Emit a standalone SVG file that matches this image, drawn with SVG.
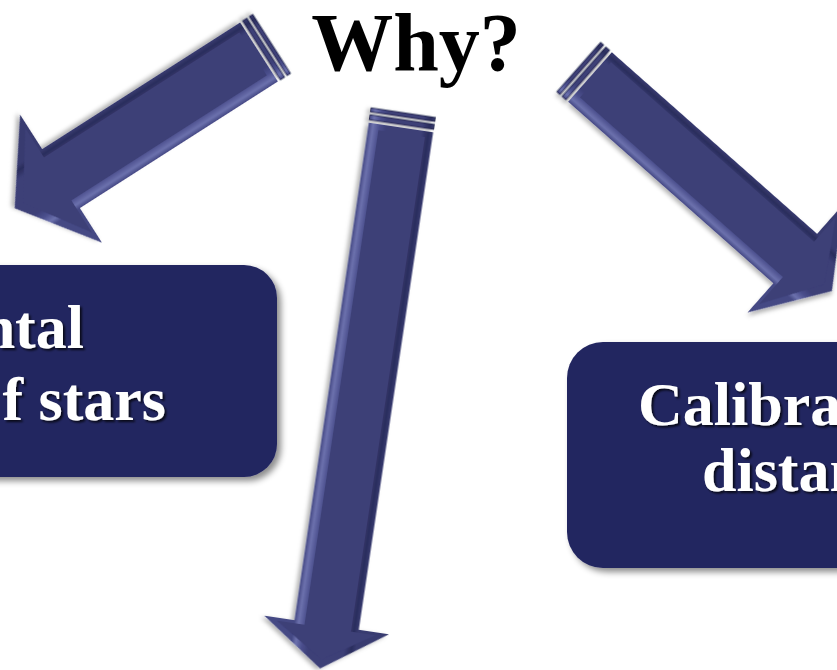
<svg xmlns="http://www.w3.org/2000/svg" width="837" height="670" viewBox="0 0 837 670">
<style>
.box{fill:#222560;filter:url(#boxShadow)}
.lbl{font-family:"Liberation Serif","Times New Roman",serif;font-weight:bold;font-size:62px;fill:#ffffff;filter:url(#txtShadow)}
.why{font-family:"Liberation Serif","Times New Roman",serif;font-weight:bold;font-size:82px;fill:#000000}
.inner{fill:#3c3f77}
.stripe{stroke:#1e2048;stroke-width:0.8}
</style>
<defs>
<filter id="boxShadow" x="-20%" y="-20%" width="140%" height="140%">
<feDropShadow dx="4" dy="4" stdDeviation="3" flood-color="#000" flood-opacity="0.45"/>
</filter>
<filter id="txtShadow" x="-10%" y="-20%" width="120%" height="140%">
<feDropShadow dx="2" dy="2" stdDeviation="1.2" flood-color="#000" flood-opacity="0.75"/>
</filter>
<filter id="arrShadow" x="-20%" y="-20%" width="140%" height="140%">
<feDropShadow dx="2" dy="3" stdDeviation="2" flood-color="#000" flood-opacity="0.3"/>
</filter>
<linearGradient id="gLeft" gradientUnits="userSpaceOnUse" x1="0" y1="-35" x2="0" y2="35">
<stop offset="0" stop-color="#444884"/>
<stop offset="0.07" stop-color="#6c71ad"/>
<stop offset="0.17" stop-color="#4a4e8c"/>
<stop offset="0.28" stop-color="#3c3f77"/>
<stop offset="0.82" stop-color="#3c3f77"/>
<stop offset="0.93" stop-color="#2a2d5c"/>
<stop offset="1" stop-color="#383b70"/>
</linearGradient>
<linearGradient id="gRight" gradientUnits="userSpaceOnUse" x1="0" y1="-33" x2="0" y2="33">
<stop offset="0" stop-color="#383b70"/>
<stop offset="0.07" stop-color="#2a2d5c"/>
<stop offset="0.18" stop-color="#3c3f77"/>
<stop offset="0.72" stop-color="#3c3f77"/>
<stop offset="0.83" stop-color="#4a4e8c"/>
<stop offset="0.93" stop-color="#6c71ad"/>
<stop offset="1" stop-color="#444884"/>
</linearGradient>
<linearGradient id="gMid" gradientUnits="userSpaceOnUse" x1="0" y1="-32.5" x2="0" y2="32.5">
<stop offset="0" stop-color="#383b70"/>
<stop offset="0.07" stop-color="#2a2d5c"/>
<stop offset="0.18" stop-color="#3c3f77"/>
<stop offset="0.72" stop-color="#3c3f77"/>
<stop offset="0.83" stop-color="#4a4e8c"/>
<stop offset="0.93" stop-color="#6c71ad"/>
<stop offset="1" stop-color="#444884"/>
</linearGradient>
</defs>
<rect width="837" height="670" fill="#ffffff"/>

<g id="connectors">
<g id="arrow-left" transform="translate(259,52) rotate(147.4)" filter="url(#arrShadow)">
<rect class="stripe" x="-8" y="-35" width="5" height="70" fill="url(#gLeft)"/>
<rect class="stripe" x="-15" y="-35" width="4" height="70" fill="url(#gLeft)"/>
<polygon points="0,-35 235,-35 235,-76 290,0 235,76 235,35 0,35" fill="url(#gLeft)"/>
<polygon class="inner" points="6,-24 238,-24 238,-62 280,0 238,62 238,27 6,27"/>
</g>
<g id="arrow-right" transform="translate(590,77) rotate(41.5)" filter="url(#arrShadow)">
<rect class="stripe" x="-8" y="-33" width="5" height="66" fill="url(#gRight)"/>
<rect class="stripe" x="-15" y="-33" width="4" height="66" fill="url(#gRight)"/>
<polygon points="0,-33 274,-33 274,-72 323,0 274,72 274,33 0,33" fill="url(#gRight)"/>
<polygon class="inner" points="6,-25 277,-25 277,-58 313,0 277,58 277,22 6,22"/>
</g>
<g id="arrow-mid" transform="translate(401,127.5) rotate(98.5)" filter="url(#arrShadow)">
<rect class="stripe" x="-8" y="-32.5" width="5" height="65" fill="url(#gMid)"/>
<rect class="stripe" x="-15" y="-32.5" width="4" height="65" fill="url(#gMid)"/>
<polygon points="0,-32.5 503,-32.5 503,-63 547,0 503,63 503,32.5 0,32.5" fill="url(#gMid)"/>
<polygon class="inner" points="6,-25 506,-25 506,-50 538,0 506,50 506,22 6,22"/>
</g>
</g>

<g id="node-why">
<text class="why" x="416" y="70" text-anchor="middle">Why?</text>
</g>

<g id="node-left">
<rect class="box" x="-60" y="265" width="337" height="212" rx="33" ry="33"/>
<text class="lbl" x="84" y="348" text-anchor="end">ntal</text>
<text class="lbl" x="166" y="420" text-anchor="end">f stars</text>
</g>

<g id="node-right">
<rect class="box" x="567" y="342" width="330" height="226" rx="36" ry="36"/>
<text class="lbl" x="638" y="425">Calibra</text>
<text class="lbl" x="702" y="491">distan</text>
</g>
</svg>
